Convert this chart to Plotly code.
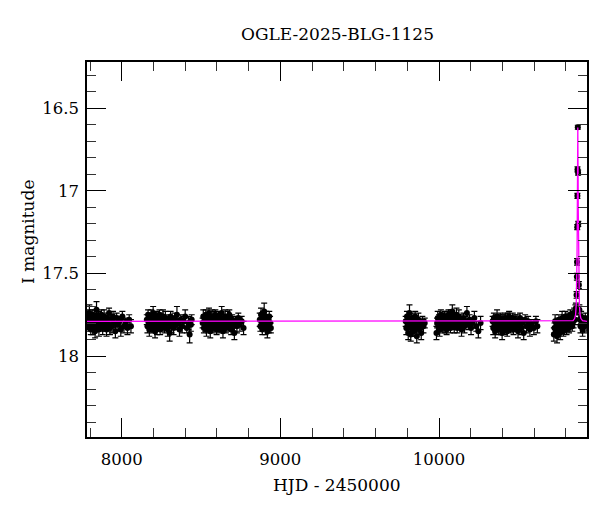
import plotly.graph_objects as go

# ---- photometry (HJD-2450000, I mag, error) ----
season1 = [
    (7784, 17.80, 0.03), (7787, 17.76, 0.04), (7790, 17.82, 0.03), (7793, 17.78, 0.03),
    (7796, 17.74, 0.05), (7799, 17.81, 0.03), (7802, 17.79, 0.04), (7805, 17.84, 0.03),
    (7808, 17.77, 0.03), (7811, 17.80, 0.04), (7814, 17.75, 0.03), (7817, 17.83, 0.04),
    (7820, 17.78, 0.03), (7823, 17.81, 0.03), (7826, 17.76, 0.04), (7829, 17.79, 0.03),
    (7832, 17.85, 0.04), (7835, 17.77, 0.03), (7838, 17.80, 0.03), (7841, 17.72, 0.05),
    (7844, 17.82, 0.03), (7847, 17.78, 0.04), (7850, 17.80, 0.03), (7853, 17.76, 0.03),
    (7856, 17.84, 0.04), (7860, 17.79, 0.03), (7864, 17.77, 0.03), (7868, 17.81, 0.04),
    (7872, 17.75, 0.03), (7876, 17.80, 0.03), (7880, 17.83, 0.04), (7884, 17.78, 0.03),
    (7889, 17.76, 0.04), (7894, 17.82, 0.03), (7899, 17.79, 0.03), (7904, 17.84, 0.04),
    (7909, 17.77, 0.03), (7914, 17.81, 0.04), (7920, 17.74, 0.03), (7926, 17.83, 0.04),
    (7932, 17.78, 0.03), (7938, 17.82, 0.04), (7945, 17.76, 0.03), (7952, 17.80, 0.03),
    (7960, 17.85, 0.04), (7968, 17.77, 0.03), (7976, 17.81, 0.04), (7985, 17.79, 0.03),
    (7994, 17.84, 0.04), (8004, 17.76, 0.03), (8014, 17.82, 0.04), (8025, 17.80, 0.03),
    (8036, 17.83, 0.04), (8047, 17.78, 0.03), (8058, 17.82, 0.04),
]
season2 = [
    (8158, 17.78, 0.03), (8162, 17.82, 0.04), (8166, 17.75, 0.03), (8170, 17.80, 0.03),
    (8174, 17.84, 0.04), (8178, 17.77, 0.03), (8182, 17.81, 0.03), (8186, 17.76, 0.04),
    (8190, 17.83, 0.03), (8194, 17.79, 0.03), (8198, 17.74, 0.04), (8202, 17.82, 0.03),
    (8206, 17.78, 0.03), (8210, 17.85, 0.04), (8214, 17.80, 0.03), (8218, 17.76, 0.03),
    (8222, 17.83, 0.04), (8226, 17.79, 0.03), (8230, 17.77, 0.03), (8234, 17.81, 0.04),
    (8238, 17.75, 0.03), (8242, 17.84, 0.03), (8246, 17.78, 0.04), (8250, 17.80, 0.03),
    (8255, 17.82, 0.03), (8260, 17.76, 0.04), (8265, 17.79, 0.03), (8270, 17.83, 0.03),
    (8275, 17.77, 0.04), (8280, 17.81, 0.03), (8285, 17.78, 0.03), (8290, 17.84, 0.04),
    (8296, 17.80, 0.03), (8302, 17.86, 0.05), (8308, 17.76, 0.03), (8314, 17.82, 0.04),
    (8320, 17.79, 0.03), (8327, 17.83, 0.04), (8334, 17.77, 0.03), (8341, 17.81, 0.03),
    (8348, 17.75, 0.05), (8356, 17.80, 0.03), (8364, 17.84, 0.04), (8372, 17.78, 0.03),
    (8381, 17.82, 0.04), (8390, 17.79, 0.03), (8400, 17.76, 0.04), (8410, 17.83, 0.03),
    (8420, 17.80, 0.04), (8428, 17.87, 0.05), (8436, 17.81, 0.04), (8441, 17.78, 0.03),
]
season3 = [
    (8510, 17.80, 0.03), (8514, 17.76, 0.04), (8518, 17.83, 0.03), (8522, 17.78, 0.03),
    (8526, 17.81, 0.04), (8530, 17.75, 0.03), (8534, 17.84, 0.04), (8538, 17.79, 0.03),
    (8542, 17.77, 0.03), (8546, 17.82, 0.04), (8550, 17.74, 0.03), (8554, 17.80, 0.03),
    (8558, 17.85, 0.04), (8562, 17.78, 0.03), (8566, 17.81, 0.03), (8570, 17.76, 0.04),
    (8574, 17.83, 0.03), (8578, 17.79, 0.03), (8582, 17.77, 0.04), (8586, 17.82, 0.03),
    (8590, 17.75, 0.03), (8594, 17.80, 0.04), (8598, 17.84, 0.03), (8602, 17.78, 0.03),
    (8606, 17.81, 0.04), (8610, 17.76, 0.03), (8614, 17.83, 0.03), (8618, 17.79, 0.04),
    (8622, 17.77, 0.03), (8626, 17.82, 0.03), (8630, 17.74, 0.04), (8634, 17.80, 0.03),
    (8638, 17.85, 0.04), (8642, 17.78, 0.03), (8647, 17.81, 0.03), (8652, 17.76, 0.04),
    (8657, 17.83, 0.03), (8662, 17.79, 0.03), (8667, 17.77, 0.04), (8672, 17.82, 0.03),
    (8678, 17.75, 0.03), (8684, 17.80, 0.04), (8690, 17.84, 0.03), (8696, 17.78, 0.03),
    (8703, 17.81, 0.04), (8710, 17.86, 0.04), (8718, 17.79, 0.03), (8726, 17.82, 0.04),
    (8735, 17.77, 0.03), (8745, 17.81, 0.04), (8756, 17.79, 0.03), (8768, 17.83, 0.04),
]
season4 = [
    (8870, 17.78, 0.04), (8874, 17.82, 0.03), (8878, 17.75, 0.04), (8882, 17.80, 0.03),
    (8886, 17.84, 0.03), (8890, 17.77, 0.04), (8894, 17.81, 0.03), (8898, 17.73, 0.05),
    (8902, 17.79, 0.03), (8906, 17.83, 0.04), (8910, 17.76, 0.03), (8914, 17.80, 0.03),
    (8918, 17.85, 0.04), (8922, 17.78, 0.03), (8926, 17.82, 0.04), (8930, 17.76, 0.03),
    (8935, 17.80, 0.04), (8940, 17.83, 0.03),
]
season5 = [
    (9790, 17.79, 0.03), (9794, 17.83, 0.04), (9798, 17.76, 0.03), (9802, 17.81, 0.03),
    (9806, 17.86, 0.04), (9810, 17.78, 0.03), (9814, 17.74, 0.05), (9818, 17.82, 0.03),
    (9822, 17.87, 0.04), (9826, 17.80, 0.03), (9830, 17.77, 0.03), (9834, 17.84, 0.04),
    (9838, 17.79, 0.03), (9842, 17.85, 0.03), (9846, 17.81, 0.04), (9850, 17.76, 0.03),
    (9855, 17.83, 0.03), (9860, 17.88, 0.04), (9865, 17.80, 0.03), (9870, 17.78, 0.04),
    (9876, 17.84, 0.03), (9882, 17.81, 0.03), (9888, 17.86, 0.04), (9895, 17.79, 0.03),
    (9902, 17.82, 0.04), (9910, 17.80, 0.03),
]
season6 = [
    (9984, 17.86, 0.04), (9988, 17.80, 0.03), (9992, 17.77, 0.04), (9996, 17.82, 0.03),
    (10000, 17.78, 0.03), (10004, 17.84, 0.04), (10008, 17.79, 0.03), (10012, 17.75, 0.03),
    (10016, 17.81, 0.04), (10020, 17.77, 0.03), (10024, 17.83, 0.03), (10028, 17.78, 0.04),
    (10032, 17.80, 0.03), (10036, 17.76, 0.03), (10040, 17.82, 0.04), (10044, 17.79, 0.03),
    (10048, 17.84, 0.03), (10052, 17.77, 0.04), (10056, 17.81, 0.03), (10060, 17.75, 0.03),
    (10064, 17.80, 0.04), (10068, 17.78, 0.03), (10072, 17.83, 0.03), (10076, 17.76, 0.04),
    (10080, 17.79, 0.03), (10084, 17.73, 0.04), (10088, 17.81, 0.03), (10092, 17.77, 0.03),
    (10096, 17.82, 0.04), (10100, 17.78, 0.03), (10105, 17.80, 0.03), (10110, 17.75, 0.04),
    (10115, 17.83, 0.03), (10120, 17.79, 0.03), (10125, 17.76, 0.04), (10130, 17.81, 0.03),
    (10136, 17.78, 0.03), (10142, 17.84, 0.04), (10148, 17.80, 0.03), (10154, 17.77, 0.03),
    (10161, 17.82, 0.04), (10168, 17.79, 0.03), (10176, 17.74, 0.04), (10184, 17.81, 0.03),
    (10193, 17.78, 0.03), (10202, 17.83, 0.04), (10212, 17.80, 0.03), (10223, 17.77, 0.04),
    (10235, 17.82, 0.03), (10248, 17.85, 0.04), (10262, 17.80, 0.04),
]
season7 = [
    (10338, 17.79, 0.03), (10342, 17.83, 0.04), (10346, 17.77, 0.03), (10350, 17.81, 0.03),
    (10354, 17.85, 0.04), (10358, 17.78, 0.03), (10362, 17.82, 0.03), (10366, 17.76, 0.04),
    (10370, 17.80, 0.03), (10374, 17.84, 0.03), (10378, 17.79, 0.04), (10382, 17.81, 0.03),
    (10386, 17.77, 0.03), (10390, 17.83, 0.04), (10394, 17.80, 0.03), (10398, 17.86, 0.04),
    (10402, 17.78, 0.03), (10406, 17.82, 0.03), (10410, 17.79, 0.04), (10414, 17.84, 0.03),
    (10418, 17.77, 0.03), (10422, 17.81, 0.04), (10426, 17.80, 0.03), (10430, 17.85, 0.03),
    (10434, 17.78, 0.04), (10438, 17.82, 0.03), (10442, 17.76, 0.03), (10446, 17.80, 0.04),
    (10450, 17.83, 0.03), (10455, 17.79, 0.03), (10460, 17.81, 0.04), (10465, 17.77, 0.03),
    (10470, 17.84, 0.03), (10475, 17.80, 0.04), (10480, 17.78, 0.03), (10486, 17.82, 0.03),
    (10492, 17.79, 0.04), (10498, 17.85, 0.04), (10504, 17.81, 0.03), (10511, 17.77, 0.03),
    (10518, 17.83, 0.04), (10526, 17.80, 0.03), (10534, 17.86, 0.04), (10543, 17.78, 0.03),
    (10552, 17.82, 0.04), (10562, 17.79, 0.03), (10573, 17.84, 0.04), (10585, 17.81, 0.03),
    (10598, 17.83, 0.04), (10611, 17.79, 0.03), (10620, 17.82, 0.04),
]
season8 = [
    (10724, 17.87, 0.04), (10728, 17.83, 0.03), (10732, 17.79, 0.04), (10736, 17.85, 0.03),
    (10740, 17.81, 0.03), (10744, 17.88, 0.04), (10748, 17.80, 0.03), (10752, 17.84, 0.04),
    (10756, 17.78, 0.03), (10760, 17.82, 0.03), (10764, 17.86, 0.04), (10768, 17.80, 0.03),
    (10772, 17.83, 0.03), (10776, 17.77, 0.04), (10780, 17.81, 0.03), (10784, 17.85, 0.03),
    (10788, 17.79, 0.04), (10792, 17.82, 0.03), (10796, 17.76, 0.03), (10800, 17.80, 0.04),
    (10804, 17.84, 0.03), (10808, 17.78, 0.03), (10812, 17.81, 0.04), (10816, 17.77, 0.03),
    (10820, 17.83, 0.03), (10824, 17.79, 0.04), (10828, 17.75, 0.03), (10832, 17.80, 0.03),
    (10836, 17.78, 0.04), (10840, 17.82, 0.03), (10844, 17.76, 0.03), (10848, 17.79, 0.04),
    (10852, 17.74, 0.03), (10856, 17.78, 0.03), (10860, 17.73, 0.04), (10863, 17.71, 0.03),
    (10867, 17.63, 0.02), (10869, 17.52, 0.02), (10870, 17.43, 0.02), (10871.5, 17.22, 0.015),
    (10872.5, 17.03, 0.015), (10873, 16.87, 0.015), (10875, 16.615, 0.012), (10877, 16.89, 0.015),
    (10878, 17.20, 0.015), (10882, 17.57, 0.02), (10885, 17.72, 0.03), (10888, 17.78, 0.03),
    (10892, 17.82, 0.04), (10896, 17.76, 0.03), (10900, 17.80, 0.03), (10905, 17.84, 0.04),
    (10910, 17.79, 0.03), (10916, 17.82, 0.04), (10922, 17.77, 0.03), (10928, 17.81, 0.04),
]
seasons = [season1, season2, season3, season4, season5, season6, season7, season8]

# ---- microlensing model curve (HJD-2450000, I mag) ----
model_hjd = [7781, 10820, 10845, 10855, 10861, 10865, 10867, 10868, 10869, 10870,
             10871, 10872, 10873, 10874, 10875, 10876, 10877, 10878, 10879, 10880,
             10881, 10883, 10885, 10889, 10895, 10905, 10933]
model_mag = [17.790, 17.789, 17.786, 17.773, 17.750, 17.690, 17.630, 17.570, 17.500, 17.410,
             17.290, 17.120, 16.920, 16.715, 16.616, 16.715, 16.920, 17.120, 17.290, 17.410,
             17.500, 17.630, 17.690, 17.750, 17.773, 17.786, 17.790]

title_text = "OGLE-2025-BLG-1125"
x_title = "HJD - 2450000"
y_title = "I magnitude"

hjd = [r[0] for s in seasons for r in s]
mag = [r[1] for s in seasons for r in s]
err = [r[2] for s in seasons for r in s]

FONT = "DejaVu Serif"

fig = go.Figure()
fig.add_trace(go.Scatter(
    x=hjd, y=mag, mode="markers",
    marker=dict(color="black", size=6, symbol="circle"),
    error_y=dict(type="data", array=err, visible=True, color="black",
                 thickness=1.2, width=3),
    showlegend=False, hoverinfo="x+y",
))
fig.add_trace(go.Scatter(
    x=model_hjd, y=model_mag, mode="lines",
    line=dict(color="#ff00ff", width=1.3),
    showlegend=False, hoverinfo="skip",
))

axis_common = dict(
    showline=True, linecolor="black", linewidth=1.5, mirror="ticks",
    ticks="inside", tickcolor="black", tickwidth=1, ticklen=19,
    showgrid=False, zeroline=False,
    tickfont=dict(family=FONT, size=16.5, color="black"),
)

# the page body adds an 8 px offset, so the figure is 8 px smaller and shifted
fig.update_layout(
    width=592, height=504,
    margin=dict(l=79, r=13, t=54, b=75, pad=0, autoexpand=False),
    paper_bgcolor="white", plot_bgcolor="white",
    font=dict(family=FONT, color="black"),
    xaxis=dict(range=[7781, 10933], tick0=0, dtick=1000, tickformat="d",
               minor=dict(dtick=200, ticks="inside", ticklen=9,
                          tickcolor="#333", tickwidth=1),
               ticklabelstandoff=6,
               **axis_common),
    yaxis=dict(range=[18.49, 16.22], tick0=0, dtick=0.5,
               minor=dict(dtick=0.1, ticks="inside", ticklen=9,
                          tickcolor="#333", tickwidth=1),
               ticklabelstandoff=3,
               **axis_common),
    annotations=[
        dict(text=title_text, xref="paper", yref="paper", x=0.5, y=1.075,
             xanchor="center", yanchor="middle", showarrow=False,
             font=dict(family=FONT, size=17, color="black")),
        dict(text=x_title, xref="paper", yref="paper", x=0.5, y=-0.128,
             xanchor="center", yanchor="middle", showarrow=False,
             font=dict(family=FONT, size=17, color="black")),
        dict(text=y_title, xref="paper", yref="paper", x=-0.118, y=0.547,
             xanchor="center", yanchor="middle", showarrow=False, textangle=-90,
             font=dict(family=FONT, size=17, color="black")),
    ],
)

fig.write_html("out.html")
